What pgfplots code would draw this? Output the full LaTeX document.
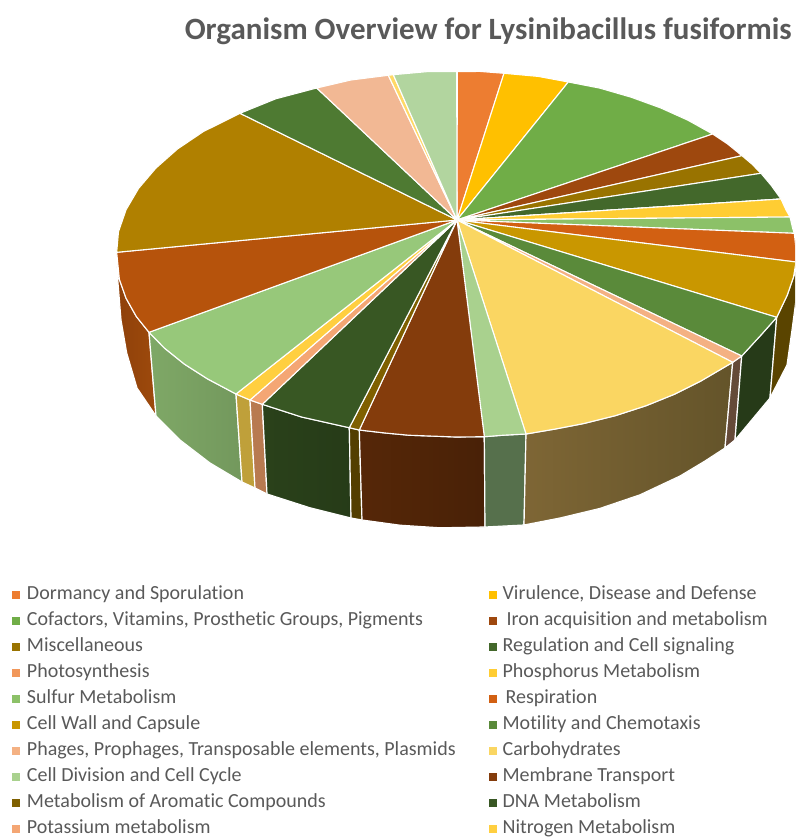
\documentclass[border=0pt]{standalone}
\usepackage{pgfplots}
\pgfplotsset{compat=1.18}
\usepackage{fontspec}
\setmainfont{Carlito}[Ligatures=NoCommon]
\definecolor{txt}{HTML}{595959}
\definecolor{c01}{HTML}{ED7D31}
\definecolor{c02}{HTML}{FFC000}
\definecolor{c03}{HTML}{70AD47}
\definecolor{c04}{HTML}{9E480E}
\definecolor{c05}{HTML}{997300}
\definecolor{c06}{HTML}{43682B}
\definecolor{c07}{HTML}{F1975A}
\definecolor{c08}{HTML}{FFCD33}
\definecolor{c09}{HTML}{8CC168}
\definecolor{c10}{HTML}{D26012}
\definecolor{c11}{HTML}{C99700}
\definecolor{c12}{HTML}{5A8A3A}
\definecolor{c13}{HTML}{F4B183}
\definecolor{c14}{HTML}{FAD662}
\definecolor{c15}{HTML}{A9D18E}
\definecolor{c16}{HTML}{843C0C}
\definecolor{c17}{HTML}{7F6000}
\definecolor{c18}{HTML}{385723}
\definecolor{c19}{HTML}{F4A674}
\definecolor{c20}{HTML}{FFCF40}
\definecolor{c21}{HTML}{97C87A}
\definecolor{c22}{HTML}{B6530C}
\definecolor{c23}{HTML}{B08000}
\definecolor{c24}{HTML}{4E7A32}
\definecolor{c25}{HTML}{F2B894}
\definecolor{c26}{HTML}{FFD966}
\definecolor{c27}{HTML}{B2D59F}
\begin{document}
\begin{tikzpicture}
\useasboundingbox (0pt,0pt) rectangle (795pt,837pt);
\begin{axis}[
  scale only axis, width=795pt, height=837pt,
  xmin=0, xmax=795, ymin=0, ymax=837, y dir=reverse,
  hide axis, clip=true,
  legend columns=2,
  legend cell align=left,
  legend image code/.code={\fill[#1,draw=none] (0pt,-4pt) rectangle (8pt,4pt);},
  legend style={
    draw=none, fill=none, at={(axis cs:12,584.5)}, anchor=north west,
    inner sep=0pt, outer sep=0pt, font=\fontsize{20}{22}\selectfont,
    text=txt,
    nodes={text height=15pt, text depth=5pt, inner ysep=0pt, inner xsep=0pt},
    row sep=6pt,
    /tikz/column 1/.style={column sep=7pt},
    /tikz/column 2/.style={column sep=33pt},
    /tikz/column 3/.style={column sep=6pt},
  },
  wall/.style={forget plot, draw=white, line width=1.2pt, line join=round},
  face/.style={draw=white, line width=1.1pt, line join=round, fill=#1},
]
% outer walls of the slices, left to right along the front of the pie
\addplot[wall, left color={rgb,255:red,142;green,64;blue,10}, right color={rgb,255:red,158;green,74;blue,12}] coordinates {(116,254)(119.4,279.4)(126.1,298.3)(136.4,316.6)(149,332.3)(156,416)(137,388)(126.7,353)(121,320)(118,283)} --cycle;
\addplot[wall, left color=c21!84!black, right color=c21!76!black] coordinates {(149,332.3)(164.6,348.2)(184.4,364.1)(207.4,378.8)(236,394)(242,482)(210,463)(180,440)(156,416)} --cycle;
\addplot[wall, fill={rgb,255:red,191;green,160;blue,58}] coordinates {(236,394)(250,400)(255,488)(242,482)} --cycle;
\addplot[wall, fill={rgb,255:red,184;green,122;blue,80}] coordinates {(250,400)(262.3,404.3)(267,494)(255,488)} --cycle;
\addplot[wall, left color=c18!75!black, right color=c18!68!black] coordinates {(262.3,404.3)(301.6,417)(349.3,427.7)(351,518)(310,507.8)(267,494)} --cycle;
\addplot[wall, fill=c17!65!black] coordinates {(349.3,427.7)(359.3,430)(362,520)(351,518)} --cycle;
\addplot[wall, left color=c16!65!black, right color=c16!55!black] coordinates {(359.3,430)(385.3,433)(408.7,435.2)(456,437)(484.3,436.7)(485,527)(440,527.8)(400,525.2)(362,520)} --cycle;
\addplot[wall, fill={rgb,255:red,86;green,112;blue,76}] coordinates {(484.3,436.7)(503.3,435.2)(526,434)(524,525)(485,527)} --cycle;
\addplot[wall, left color={rgb,255:red,126;green,102;blue,53}, right color={rgb,255:red,100;green,84;blue,42}] coordinates {(526,434)(555.4,429)(583.4,423.6)(615.6,415.6)(646.1,405.7)(674.5,394.2)(700.5,381.2)(732.7,362.3)(725,448)(705,461)(680,476)(640,494.8)(600,508.4)(560,518)(524,525)} --cycle;
\addplot[wall, fill={rgb,255:red,101;green,74;blue,56}] coordinates {(732.7,362.3)(741.7,356)(735,440)(725,448)} --cycle;
\addplot[wall, fill=c12!42!black] coordinates {(741.7,356)(761.7,334.2)(776.7,317.3)(770,398)(735,440)} --cycle;
\addplot[wall, fill=c11!45!black] coordinates {(776.7,317.3)(787.2,295.2)(793.5,277)(796,270)(796,300)(792,330)(787,365)(770,398)} --cycle;
% top faces of the slices, clockwise from twelve o'clock
\addplot[face=c01] coordinates {(457,220)(457.3,71.7)(479.7,71.4)(504,73.3)} --cycle;
\addlegendentry{Dormancy and Sporulation}
\addplot[face=c02] coordinates {(457,220)(504,73.3)(538.2,76.4)(568.3,82)} --cycle;
\addlegendentry{Virulence, Disease and Defense}
\addplot[face=c03] coordinates {(457,220)(568.3,82)(599.7,88.1)(631.1,97.2)(660.6,107.9)(687.9,120.2)(712.7,134)} --cycle;
\addlegendentry{Cofactors, Vitamins, Prosthetic Groups, Pigments}
\addplot[face=c04] coordinates {(457,220)(712.7,134)(727.5,143.9)(742,155.7)} --cycle;
\addlegendentry{\hspace{4pt}Iron acquisition and metabolism}
\addplot[face=c05] coordinates {(457,220)(742,155.7)(751.8,164)(761,173.3)} --cycle;
\addlegendentry{Miscellaneous}
\addplot[face=c06] coordinates {(457,220)(761,173.3)(771.2,185.4)(781,199)} --cycle;
\addlegendentry{Regulation and Cell signaling}
\addplot[face=c07] coordinates {(457,220)(781,199)} --cycle;
\addlegendentry{Photosynthesis}
\addplot[face=c08] coordinates {(457,220)(781,199)(785.9,209.7)(790,217)} --cycle;
\addlegendentry{Phosphorus Metabolism}
\addplot[face=c09] coordinates {(457,220)(790,217)(792.7,228.5)(794.3,233.3)} --cycle;
\addlegendentry{Sulfur Metabolism}
\addplot[face=c10] coordinates {(457,220)(794.3,233.3)(795.8,247.6)(796,262)} --cycle;
\addlegendentry{\hspace{3pt}Respiration}
\addplot[face=c11] coordinates {(457,220)(796,262)(793.5,277)(787.2,295.2)(776.7,317.3)} --cycle;
\addlegendentry{Cell Wall and Capsule}
\addplot[face=c12] coordinates {(457,220)(776.7,317.3)(761.7,334.2)(741.7,356)} --cycle;
\addlegendentry{Motility and Chemotaxis}
\addplot[face=c13] coordinates {(457,220)(741.7,356)(732.7,362.3)} --cycle;
\addlegendentry{Phages, Prophages, Transposable elements, Plasmids}
\addplot[face=c14] coordinates {(457,220)(732.7,362.3)(700.5,381.2)(674.5,394.2)(646.1,405.7)(615.6,415.6)(583.4,423.6)(555.4,429)(526,434)} --cycle;
\addlegendentry{Carbohydrates}
\addplot[face=c15] coordinates {(457,220)(526,434)(503.3,435.2)(484.3,436.7)} --cycle;
\addlegendentry{Cell Division and Cell Cycle}
\addplot[face=c16] coordinates {(457,220)(484.3,436.7)(456,437)(408.7,435.2)(385.3,433)(359.3,430)} --cycle;
\addlegendentry{Membrane Transport}
\addplot[face=c17] coordinates {(457,220)(359.3,430)(349.3,427.7)} --cycle;
\addlegendentry{Metabolism of Aromatic Compounds}
\addplot[face=c18] coordinates {(457,220)(349.3,427.7)(301.6,417)(262.3,404.3)} --cycle;
\addlegendentry{DNA Metabolism}
\addplot[face=c19] coordinates {(457,220)(262.3,404.3)(250,400)} --cycle;
\addlegendentry{Potassium metabolism}
\addplot[face=c20] coordinates {(457,220)(250,400)(236,394)} --cycle;
\addlegendentry{Nitrogen Metabolism}
\addplot[face=c21, forget plot] coordinates {(457,220)(236,394)(207.4,378.8)(184.4,364.1)(164.6,348.2)(149,332.3)} --cycle;
\addplot[face=c22, forget plot] coordinates {(457,220)(149,332.3)(136.4,316.6)(126.1,298.3)(119.4,279.4)(116.7,252.3)} --cycle;
\addplot[face=c23, forget plot] coordinates {(457,220)(116.7,252.3)(118.5,231.7)(126.1,209.7)(138.6,188.4)(155.8,168.2)(177.5,149)(203.3,131.6)(240,113.3)} --cycle;
\addplot[face=c24, forget plot] coordinates {(457,220)(240,113.3)(275.8,98.8)(316.7,88)} --cycle;
\addplot[face=c25, forget plot] coordinates {(457,220)(316.7,88)(350.9,80)(388.3,75.3)} --cycle;
\addplot[face=c26, forget plot] coordinates {(457,220)(388.3,75.3)(393.3,74.7)} --cycle;
\addplot[face=c27, forget plot] coordinates {(457,220)(393.3,74.7)(426.4,71.7)(456.7,71.7)} --cycle;
\node[anchor=base east, inner sep=0pt, text=txt, font=\fontsize{31}{34}\selectfont\bfseries] at (axis cs:792,39.5) {Organism Overview for Lysinibacillus fusiformis};
\end{axis}
\end{tikzpicture}
\end{document}
